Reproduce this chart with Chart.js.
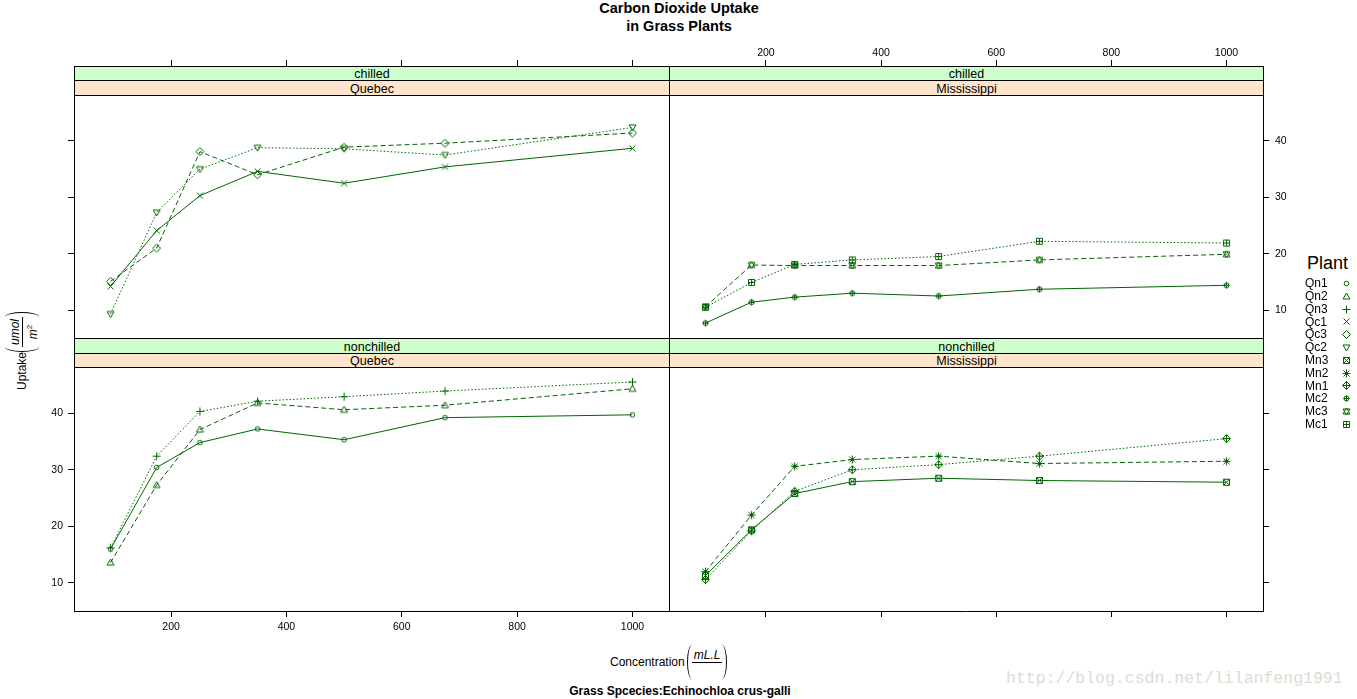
<!DOCTYPE html>
<html>
<head>
<meta charset="utf-8">
<script src="https://cdn.jsdelivr.net/npm/chart.js@4/dist/chart.umd.min.js"></script>
<style>
	body { margin: 0; width: 1357px; height: 699px; position: relative; overflow: hidden; background: #fff;
		font-family: "Liberation Sans", Arial, sans-serif; color: #000; }
	canvas.panel { position: absolute; left: 0; top: 0; }
	.abs { position: absolute; white-space: nowrap; }
	.strip { position: absolute; box-sizing: border-box; border: 1px solid #000; font-size: 12.5px; text-align: center; }
	.title { font-weight: bold; font-size: 14.5px; line-height: 14.5px; width: 400px; left: 479px; text-align: center; }
	.frac { display: inline-flex; flex-direction: column; align-items: center; font-style: italic; }
	.frac .num { line-height: 14px; height: 14px; padding: 0 2px; }
	.frac .den { line-height: 14px; height: 14px; border-top: 1px solid #000; align-self: stretch; text-align: center; }
	.lp, .rp { display: inline-block; width: 5px; height: 34px; box-sizing: border-box; }
	.lp { border-left: 1px solid #000; border-radius: 100% 0 0 100% / 50% 0 0 50%; }
	.rp { border-right: 1px solid #000; border-radius: 0 100% 100% 0 / 0 50% 50% 0; }
	.lbl { display: flex; align-items: center; font-size: 12px; }
	.legrow { position: absolute; font-size: 12px; line-height: 12.8px; }
	.mark { position: absolute; }
</style>
</head>
<body>
<div class="abs title" style="top:1px">Carbon Dioxide Uptake</div>
<div class="abs title" style="top:19px">in Grass Plants</div>

<div class="abs lbl" id="ylab" style="left:22px; top:351px; transform: translate(-50%, -50%) rotate(-90deg);">
	<span>Uptake</span><span class="lp"></span><span class="frac"><span class="num">umol</span><span class="den"><i>m</i><sup style="font-size:8px;font-style:normal">2</sup></span></span><span class="rp"></span>
</div>
<div class="abs lbl" id="xlab" style="left:610px; top:645px; height:34px;">
	<span>Concentration</span><span class="lp" style="margin-left:2px"></span><span class="frac"><span class="num">mL.L</span><span class="den"></span></span><span class="rp"></span>
</div>
<div class="abs" style="left:480px; width:400px; text-align:center; top:684.5px; font-size:12px; line-height:12px; font-weight:bold;">Grass Spcecies:Echinochloa crus-galli</div>

<div class="abs" style="left:1006px; top:670px; font-family:'Liberation Mono', monospace; font-size:16.5px; line-height:18px; color:#dcdcd4;">http://blog.csdn.net/lilanfeng1991</div>

<div class="abs" style="left:1307px; top:254px; font-size:18px; line-height:18px;">Plant</div>

<script>
// CO2 uptake per plant
const conc = [95, 175, 250, 350, 500, 675, 1000];

const uptakeQn1 = [16.0, 30.4, 34.8, 37.2, 35.3, 39.2, 39.7];
const uptakeQn2 = [13.6, 27.3, 37.1, 41.8, 40.6, 41.4, 44.3];
const uptakeQn3 = [16.2, 32.4, 40.3, 42.1, 42.9, 43.9, 45.5];
const uptakeQc1 = [14.2, 24.1, 30.3, 34.6, 32.5, 35.4, 38.7];
const uptakeQc3 = [15.1, 21.0, 38.1, 34.0, 38.9, 39.6, 41.4];
const uptakeQc2 = [9.3, 27.3, 35.0, 38.8, 38.6, 37.5, 42.4];
const uptakeMn3 = [11.3, 19.4, 25.8, 27.9, 28.5, 28.1, 27.8];
const uptakeMn2 = [12.0, 22.0, 30.6, 31.8, 32.4, 31.1, 31.5];
const uptakeMn1 = [10.6, 19.2, 26.2, 30.0, 30.9, 32.4, 35.5];
const uptakeMc2 = [7.7, 11.4, 12.3, 13.0, 12.5, 13.7, 14.4];
const uptakeMc3 = [10.6, 18.0, 17.9, 17.9, 17.9, 18.9, 19.9];
const uptakeMc1 = [10.5, 14.9, 18.1, 18.9, 19.5, 22.2, 21.9];

const plants = ['Qn1', 'Qn2', 'Qn3', 'Qc1', 'Qc3', 'Qc2', 'Mn3', 'Mn2', 'Mn1', 'Mc2', 'Mc3', 'Mc1'];
const treatments = ['chilled', 'nonchilled'];
const types = ['Quebec', 'Mississippi'];
const xTicks = [200, 400, 600, 800, 1000];
const yTicks = [10, 20, 30, 40];

const uptake = {
	Qn1: uptakeQn1, Qn2: uptakeQn2, Qn3: uptakeQn3, Qc1: uptakeQc1, Qc3: uptakeQc3, Qc2: uptakeQc2,
	Mn3: uptakeMn3, Mn2: uptakeMn2, Mn1: uptakeMn1, Mc2: uptakeMc2, Mc3: uptakeMc3, Mc1: uptakeMc1
};

const W = 1357, H = 699, AX = 30, STRIP = 29;
const GREEN = '#006400';
const FONT = '"Liberation Sans", Arial, sans-serif';
const DASHES = [[], [5, 3], [1.5, 2]];

//lattice style limits: data range padded by 7%
const allY = Object.values(uptake).flat();
const yMin = Math.min(...allY), yMax = Math.max(...allY);
const yLo = yMin - 0.07 * (yMax - yMin), yHi = yMax + 0.07 * (yMax - yMin);
const xLo = conc[0] - 0.07 * (conc[6] - conc[0]), xHi = conc[6] + 0.07 * (conc[6] - conc[0]);

// pch 1..12 drawn into small canvases
const makeSymbol = (pch) => {
	const cv = document.createElement('canvas');
	cv.width = 11; cv.height = 11;
	const ctx = cv.getContext('2d');
	const c = 5.5;
	ctx.strokeStyle = GREEN;
	ctx.lineWidth = 1;
	ctx.beginPath();
	const line = (x1, y1, x2, y2) => { ctx.moveTo(x1, y1); ctx.lineTo(x2, y2); };
	const plus = (r) => { line(c, c - r, c, c + r); line(c - r, c, c + r, c); };
	const cross = (r) => { line(c - r, c - r, c + r, c + r); line(c + r, c - r, c - r, c + r); };
	const diamond = (r) => { ctx.moveTo(c, c - r); ctx.lineTo(c + r, c); ctx.lineTo(c, c + r); ctx.lineTo(c - r, c); ctx.closePath(); };
	const triUp = () => { ctx.moveTo(c, c - 3.5); ctx.lineTo(c + 3.5, c + 2.5); ctx.lineTo(c - 3.5, c + 2.5); ctx.closePath(); };
	const triDown = () => { ctx.moveTo(c - 3.5, c - 2.5); ctx.lineTo(c + 3.5, c - 2.5); ctx.lineTo(c, c + 3.5); ctx.closePath(); };
	switch (pch) {
		case 1: ctx.arc(c, c, 2.3, 0, Math.PI * 2); break;
		case 2: triUp(); break;
		case 3: plus(4); break;
		case 4: cross(3); break;
		case 5: diamond(4); break;
		case 6: triDown(); break;
		case 7: ctx.rect(c - 3, c - 3, 6, 6); cross(3); break;
		case 8: plus(4); cross(3); break;
		case 9: diamond(4); plus(4); break;
		case 10: ctx.arc(c, c, 2.5, 0, Math.PI * 2); plus(3); break;
		case 11: triUp(); triDown(); break;
		case 12: ctx.rect(c - 3, c - 3, 6, 6); plus(3); break;
	}
	ctx.stroke();
	return cv;
};

const panels = [
	{treat: 0, type: 0, plants: ['Qc1', 'Qc3', 'Qc2'], box: [74, 66, 669, 338], split: 14, left: 'marks', right: 'none', top: 'marks', bottom: 'none'},
	{treat: 0, type: 1, plants: ['Mc2', 'Mc3', 'Mc1'], box: [669, 66, 1263, 338], split: 14, left: 'none', right: 'labels', top: 'labels', bottom: 'none'},
	{treat: 1, type: 0, plants: ['Qn1', 'Qn2', 'Qn3'], box: [74, 338, 669, 611], split: 15, left: 'labels', right: 'none', top: 'none', bottom: 'labels'},
	{treat: 1, type: 1, plants: ['Mn3', 'Mn2', 'Mn1'], box: [669, 338, 1263, 611], split: 15, left: 'none', right: 'marks', top: 'none', bottom: 'marks'}
];

const scaleCfg = (position, mode, min, max, ticksAt, pad) => ({
	type: 'linear', position, min, max,
	afterBuildTicks: s => { s.ticks = ticksAt.map(v => ({value: v})); },
	afterFit: s => { if (position === 'top' || position === 'bottom') s.height = AX; else s.width = AX; },
	grid: {drawOnChartArea: false, drawTicks: mode !== 'none', tickLength: 6, color: '#000', lineWidth: 1},
	border: {display: true, color: '#000', width: 1},
	ticks: {display: mode === 'labels', color: '#000', padding: pad, font: {family: FONT, size: 10.5},
		maxRotation: 0, autoSkip: false, callback: v => String(v)}
});

const addStrip = (left, top, width, height, text, bg) => {
	const d = document.createElement('div');
	d.className = 'strip';
	Object.assign(d.style, {left: left + 'px', top: top + 'px', width: width + 'px', height: height + 'px',
		background: bg, lineHeight: (height - 2) + 'px', paddingTop: '1px'});
	d.textContent = text;
	document.body.appendChild(d);
};

panels.forEach(p => {
	const [L, T, R, B] = p.box;
	const plotH = B - T - STRIP;
	//extend y max so the strip area sits above the data region
	const yTop = yHi + (yHi - yLo) * STRIP / plotH;

	addStrip(L, T, R - L + 1, p.split + 1, treatments[p.treat], '#ccffcc');
	addStrip(L, T + p.split, R - L + 1, STRIP - p.split + 1, types[p.type], '#ffe5cc');

	const cv = document.createElement('canvas');
	cv.width = W; cv.height = H;
	cv.className = 'panel';
	document.body.appendChild(cv);

	const datasets = p.plants.map((name, i) => ({
		label: name,
		data: conc.map((x, j) => ({x, y: uptake[name][j]})),
		borderColor: GREEN,
		borderWidth: 1,
		borderDash: DASHES[i],
		pointStyle: makeSymbol(plants.indexOf(name) + 1),
		pointRadius: 3,
		tension: 0,
		fill: false,
		xAxisID: 'x',
		yAxisID: 'y'
	}));

	new Chart(cv, {
		type: 'line',
		data: {datasets},
		options: {
			responsive: false,
			animation: false,
			devicePixelRatio: 1,
			events: [],
			layout: {padding: {left: L - AX, right: W - R - AX, top: T - AX, bottom: H - B - AX}},
			plugins: {legend: {display: false}, tooltip: {enabled: false}},
			scales: {
				x: scaleCfg('bottom', p.bottom, xLo, xHi, xTicks, 4),
				x2: scaleCfg('top', p.top, xLo, xHi, xTicks, 1),
				y: scaleCfg('left', p.left, yLo, yTop, yTicks, 5),
				y2: scaleCfg('right', p.right, yLo, yTop, yTicks, 6)
			}
		}
	});
});

//legend on the right
plants.forEach((name, i) => {
	const top = 277.1 + i * 12.8;
	const row = document.createElement('div');
	row.className = 'legrow';
	row.style.left = '1305px';
	row.style.top = top + 'px';
	row.textContent = name;
	document.body.appendChild(row);

	const sym = makeSymbol(i + 1);
	sym.className = 'mark';
	sym.style.left = (1346.5 - 5.5) + 'px';
	sym.style.top = Math.round(top + 6.4 - 5.5) + 'px';
	document.body.appendChild(sym);
});
</script>
</body>
</html>
